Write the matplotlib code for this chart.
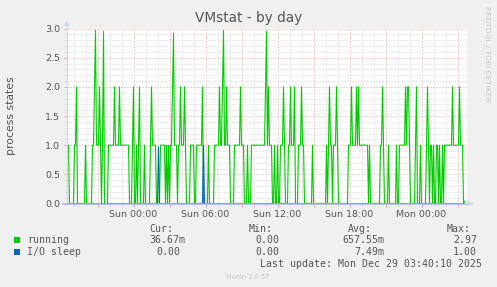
import numpy as np
import matplotlib.pyplot as plt
from matplotlib.ticker import MultipleLocator, FuncFormatter
from matplotlib.patches import Polygon, Rectangle
from matplotlib.lines import Line2D

W, H = 497, 287

# 5-minute samples, first one at Sat 18:20, last one at Mon 03:35
start_hour = -(5 + 40 / 60)   # hours relative to Sun 00:00
step_hour = 5 / 60

# running processes (one value per sample)
running = [
    1, 1, 1, 1, 0, 0, 0, 0, 0, 1,
    1, 2, 0, 0, 0, 0, 0, 0, 0, 0,
    1, 0, 0, 0, 0, 0, 0, 1, 1, 2,
    2.97, 1, 1, 1, 2, 1, 0, 1, 2.95, 0,
    0, 0, 0, 1, 1, 1, 1, 1, 1, 2,
    1, 1, 1, 1, 2, 1, 1, 1, 1, 1,
    1, 1, 1, 1, 0, 0, 0, 1, 2, 0,
    0, 1, 0, 1, 2, 0, 0, 0, 0, 1,
    0, 0, 0, 0, 0, 1, 2, 1, 1, 1,
    1, 0, 0, 0, 0, 1, 1, 1, 1, 1,
    0, 1, 0, 1, 0, 1, 1, 2, 2.92, 1,
    1, 1, 0, 1, 1, 2, 1, 1, 1, 2,
    1, 0, 0, 0, 0, 1, 1, 1, 1, 0,
    0, 1, 1, 1, 1, 1, 1, 2, 0, 0,
    0, 0, 0, 1, 0, 0, 0, 0, 0, 1,
    1, 1, 1, 1, 2, 1, 1, 2, 2.97, 1,
    1, 2, 1, 1, 1, 0, 0, 0, 0, 1,
    1, 1, 1, 1, 1, 2, 1, 1, 1, 0,
    0, 0, 1, 0, 0, 0, 1, 1, 1, 1,
    1, 1, 1, 1, 1, 1, 1, 1, 1, 1,
    2, 2.95, 1, 2, 1, 1, 1, 0, 0, 1,
    0, 0, 1, 0, 0, 1, 1, 1, 2, 1,
    0, 0, 0, 1, 1, 2, 1, 1, 1, 2,
    0, 0, 0, 1, 1, 1, 2, 1, 1, 0,
    0, 0, 0, 0, 0, 0, 0, 1, 0, 0,
    0, 0, 0, 0, 0, 0, 0, 0, 0, 0,
    0, 1, 0, 1, 2, 1, 1, 0, 1, 1,
    1, 2, 1, 0, 0, 0, 0, 0, 0, 0,
    0, 0, 0, 1, 1, 1, 2, 1, 1, 1,
    1, 2, 1, 2, 1, 1, 1, 1, 1, 1,
    1, 1, 1, 0, 1, 0, 0, 0, 0, 0,
    0, 0, 0, 0, 0, 1, 1, 2, 1, 0,
    0, 0, 0, 1, 0, 0, 0, 0, 0, 0,
    0, 1, 0, 0, 1, 1, 1, 1, 1, 1,
    2, 1, 2, 2, 1, 0, 0, 0, 0, 0,
    1, 2, 0, 0, 0, 1, 0, 0, 0, 0,
    0, 1, 2, 1, 0, 1, 1, 0, 1, 0,
    0, 1, 1, 0, 1, 0, 0, 1, 0, 1,
    1, 1, 1, 1, 1, 1, 1, 2, 1, 1,
    1, 1, 1, 1, 2, 1, 1, 1, 0, 0.04,
]
# I/O sleep is zero except for two short spikes (sample index -> value)
io_sleep_spikes = {93: 0.97, 138: 1.0}

stat_headers = ["Cur:", "Min:", "Avg:", "Max:"]
running_stats = ["36.67m", "0.00", "657.55m", "2.97"]
io_stats = ["0.00", "0.00", "7.49m", "1.00"]
last_update = "Last update: Mon Dec 29 03:40:10 2025"

GREEN = "#00CC00"
BLUE = "#0066B3"
TXT = "#555555"
MGRID = "#E3A3A3"
GRID = "#D2D2D2"
AXIS = "#CFD6F8"


def fx(x):
    return x / W


def fy(y):
    return 1 - y / H


def hour_label(t, pos):
    if abs(t / 6 - round(t / 6)) > 1e-6:
        return ""
    day = "Sun" if t < 24 else "Mon"
    return f"{day} {int(round(t)) % 24:02d}:00"


def main():
    n = len(running)
    t = start_hour + step_hour * np.arange(n)
    io_sleep = np.zeros(n)
    for i, v in io_sleep_spikes.items():
        io_sleep[i] = v

    fig = plt.figure(figsize=(W / 100, H / 100), dpi=100, facecolor="#F0F0F0")
    left, right, top, bottom = 66.5, 466.5, 27.5, 203.5
    ax = fig.add_axes([fx(left), fy(bottom), (right - left) / W, (bottom - top) / H])
    ax.set_facecolor("white")

    ax.plot(t, running, color=GREEN, lw=0.8, zorder=3)
    ax.plot(t, io_sleep, color=BLUE, lw=0.8, zorder=4)

    t0 = -(133.5 - left) / 12
    ax.set_xlim(t0, t0 + (right - left) / 12)
    ax.set_ylim(0, 3.0 + 1.0 / 58.3)

    ax.xaxis.set_major_locator(MultipleLocator(3))
    ax.xaxis.set_minor_locator(MultipleLocator(1))
    ax.xaxis.set_major_formatter(FuncFormatter(hour_label))
    ax.yaxis.set_major_locator(MultipleLocator(0.5))
    ax.yaxis.set_minor_locator(MultipleLocator(0.1))
    ax.yaxis.set_major_formatter(FuncFormatter(lambda v, p: f"{v:.1f}"))

    ax.grid(which="minor", color=GRID, lw=0.72, ls=(0, (1, 2)), zorder=1)
    ax.grid(which="major", color=MGRID, lw=0.72, ls=(0, (1, 2)), zorder=2)

    ax.tick_params(which="major", length=2.5, width=0.72, color=MGRID,
                   labelsize=6.8, labelcolor=TXT, pad=2)
    ax.tick_params(which="minor", length=1.6, width=0.72, color=GRID)
    for s in ax.spines.values():
        s.set_visible(False)

    # axes with arrows
    fig.add_artist(Line2D([fx(left), fx(left)], [fy(bottom), fy(22)],
                          color=AXIS, lw=0.8, zorder=5))
    fig.add_artist(Line2D([fx(63), fx(468)], [fy(bottom), fy(bottom)],
                          color="#A9B8EE", lw=1.1, zorder=5))
    fig.add_artist(Polygon([[fx(63.5), fy(26)], [fx(69.5), fy(26)], [fx(66.5), fy(20.5)]],
                           closed=True, color=AXIS, lw=0, zorder=5))
    fig.add_artist(Polygon([[fx(467.5), fy(200.5)], [fx(467.5), fy(206.5)], [fx(473.5), fy(203.5)]],
                           closed=True, color=AXIS, lw=0, zorder=5))

    fig.text(fx(248.5), fy(22), "VMstat - by day", ha="center", va="baseline",
             fontsize=9.8, color=TXT)
    fig.text(fx(11.5), fy(115.5), "process states", rotation=90, ha="center",
             va="center", fontsize=7.8, color=TXT)
    fig.text(fx(487.5), fy(53.5), "RRDTOOL / TOBI OETIKER", rotation=270,
             ha="center", va="center", fontsize=5.4, color="#C8C8C8")

    mono = dict(family="DejaVu Sans Mono", fontsize=7.1, color=TXT, va="baseline")
    for x, s in zip([149, 249, 348, 447], stat_headers):
        fig.text(fx(x), fy(231.5), s, **mono)

    fig.add_artist(Rectangle((fx(14), fy(243)), 6 / W, 6 / H, color=GREEN, lw=0))
    fig.text(fx(27), fy(243.2), "running", **mono)
    for x, s in zip([149, 255, 342, 453], running_stats):
        fig.text(fx(x), fy(243.2), s, **mono)

    fig.add_artist(Rectangle((fx(14), fy(254.7)), 6 / W, 6 / H, color=BLUE, lw=0))
    fig.text(fx(27), fy(254.9), "I/O sleep", **mono)
    for x, s in zip([156, 255, 354, 453], io_stats):
        fig.text(fx(x), fy(254.9), s, **mono)

    fig.text(fx(482), fy(266.6), last_update, ha="right", **mono)
    fig.text(fx(248), fy(279), "Munin 2.0.57", ha="center", va="baseline",
             fontsize=4.8, color="#C4C4C4")

    fig.savefig("out.png", dpi=100, facecolor=fig.get_facecolor())


if __name__ == "__main__":
    main()
